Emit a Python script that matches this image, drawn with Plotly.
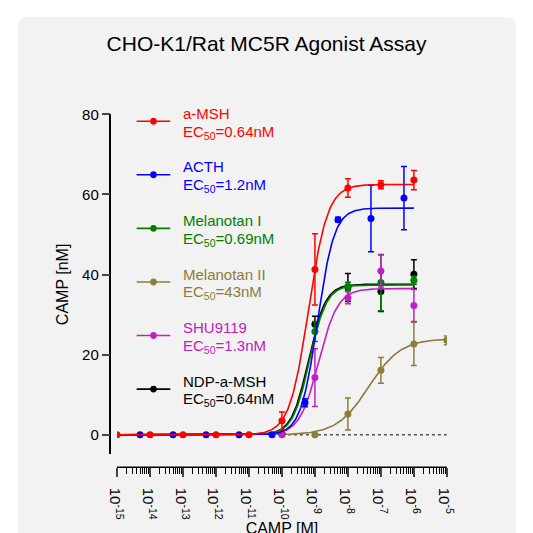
import numpy as np
import plotly.graph_objects as go

names = ["a-MSH", "ACTH", "Melanotan I", "Melanotan II", "SHU9119", "NDP-a-MSH"]
ec50_labels = ["0.64nM", "1.2nM", "0.69nM", "43nM", "1.3nM", "0.64nM"]
colors = ["#ff0000", "#0000ff", "#008000", "#8b7d3a", "#c020c0", "#000000"]
ec50 = [0.64e-9, 1.2e-9, 0.69e-9, 43e-9, 1.3e-9, 0.64e-9]
tops = [62.5, 56.6, 37.4, 24.0, 36.5, 37.6]
hill = [1.5, 1.7, 1.7, 0.9, 1.5, 1.7]

conc = [
    [1e-15, 1e-14, 1e-13, 1e-12, 1e-11, 1e-10, 1e-9, 1e-8, 1e-7, 1e-6],
    [5e-15, 5e-14, 5e-13, 5e-12, 5e-11, 5e-10, 5e-9, 5e-8, 5e-7],
    [1e-10, 1e-9, 1e-8, 1e-7, 1e-6],
    [1e-9, 1e-8, 1e-7, 1e-6, 1e-5],
    [1e-10, 1e-9, 1e-8, 1e-7, 1e-6],
    [1e-10, 1e-9, 1e-8, 1e-7, 1e-6],
]
vals = [
    [0, 0, 0, 0, 0, 3.5, 41.3, 61.6, 62.4, 63.6],
    [0, 0, 0, 0, 0, 8.0, 53.7, 54.0, 59.1],
    [0.3, 25.8, 37.1, 38.0, 38.6],
    [0, 5.2, 16.1, 22.7, 23.6],
    [0, 14.3, 34.2, 40.9, 32.3],
    [0.3, 27.6, 36.8, 35.8, 40.1],
]
errs = [
    [0, 0, 0, 0, 0, 2.2, 8.9, 2.3, 1.0, 2.4],
    [0, 0, 0, 0, 0, 1.0, 0.6, 8.3, 7.9],
    [0, 2.5, 1.0, 7.0, 1.0],
    [0, 4.0, 3.2, 5.4, 1.1],
    [0, 7.2, 1.5, 4.0, 4.0],
    [0, 2.0, 3.5, 5.0, 3.6],
]

fig = go.Figure()
W = 533
def px(v):
    return v / W

fig.add_shape(type="path", xref="paper", yref="paper", layer="below",
              path="M 0.02,0 L 0.98,0 Q 1,0 1,0.02 L 1,0.98 Q 1,1 0.98,1 L 0.02,1 Q 0,1 0,0.98 L 0,0.02 Q 0,0 0.02,0 Z",
              fillcolor="#f2f2f2", line=dict(width=0))

xc = np.logspace(-15, -6, 400)
fig.add_trace(go.Scatter(x=[1e-10, 1e-5], y=[0, 0], mode="lines",
                         line=dict(color="black", width=1, dash="dot"), showlegend=False))
order = [3, 5, 2, 4, 1, 0]
for i in order:
    xe = xc if i != 3 else np.logspace(-15, -5, 400)
    yc = tops[i] / (1 + (ec50[i] / xe) ** hill[i])
    fig.add_trace(go.Scatter(x=xe, y=yc, mode="lines", line=dict(color=colors[i], width=1.6),
                             showlegend=False, hoverinfo="skip"))
    fig.add_trace(go.Scatter(x=conc[i], y=vals[i], mode="markers",
                             marker=dict(color=colors[i], size=7),
                             error_y=dict(type="data", array=errs[i], color=colors[i], thickness=1.5, width=3),
                             showlegend=False))

for k, i in enumerate(range(6)):
    yy = 1 - px(106 + 54.5 * k)
    fig.add_shape(type="line", xref="paper", yref="paper", x0=px(127), x1=px(163), y0=yy, y1=yy,
                  line=dict(color=colors[i], width=1.6))
    fig.add_shape(type="circle", xref="paper", yref="paper", x0=px(141.5), x1=px(148.5),
                  y0=yy - px(3.5), y1=yy + px(3.5), fillcolor=colors[i], line=dict(width=0))
    fig.add_annotation(xref="paper", yref="paper", x=px(174), y=yy + px(8), xanchor="left", yanchor="middle",
                       text=names[i], showarrow=False, font=dict(color=colors[i], size=15))
    fig.add_annotation(xref="paper", yref="paper", x=px(174), y=yy - px(11), xanchor="left", yanchor="middle",
                       text="EC<sub>50</sub>=" + ec50_labels[i], showarrow=False, font=dict(color=colors[i], size=15))

major = [10.0 ** p for p in range(-15, -4)]
minor = [m * 10.0 ** p for p in range(-15, -5) for m in range(2, 10)]
fig.update_layout(
    autosize=True, margin=dict(l=0, r=0, t=0, b=0),
    paper_bgcolor="white", plot_bgcolor="rgba(0,0,0,0)",
    font=dict(family="Liberation Sans, Arial", color="black"),
    title=dict(text="CHO-K1/Rat MC5R Agonist Assay", x=0.5, y=1 - px(36), xanchor="center",
               yanchor="middle", font=dict(size=21)),
    xaxis=dict(type="log", range=[-15, -5], domain=[px(106), px(459)], anchor="free", position=px(533 - 458),
               showgrid=False, zeroline=False, showline=False, ticks="outside", ticklen=9, tickwidth=1.5,
               tickvals=major, ticktext=["10<sup>%d</sup>" % p for p in range(-15, -4)],
               minor=dict(tickvals=minor, ticks="outside", ticklen=6, tickwidth=1, tickcolor="black"),
               tickfont=dict(size=15), title=dict(text="CAMP [M]", font=dict(size=16), standoff=2)),
    yaxis=dict(range=[-4.9, 80], domain=[px(533 - 445), px(533 - 99)], anchor="free", position=px(99),
               showgrid=False, zeroline=False, showline=True, linecolor="black", linewidth=1.5,
               ticks="outside", ticklen=8, tickwidth=1.5, tickvals=[0, 20, 40, 60, 80],
               tickfont=dict(size=15), title=dict(text="CAMP [nM]", font=dict(size=16), standoff=8)),
)
fig.add_shape(type="line", xref="paper", yref="paper", x0=px(106), x1=px(459), y0=px(533 - 458), y1=px(533 - 458),
              line=dict(color="black", width=1.5))
fig.write_html("out.html", config={"responsive": True}, default_width="100%", default_height="100vh")
